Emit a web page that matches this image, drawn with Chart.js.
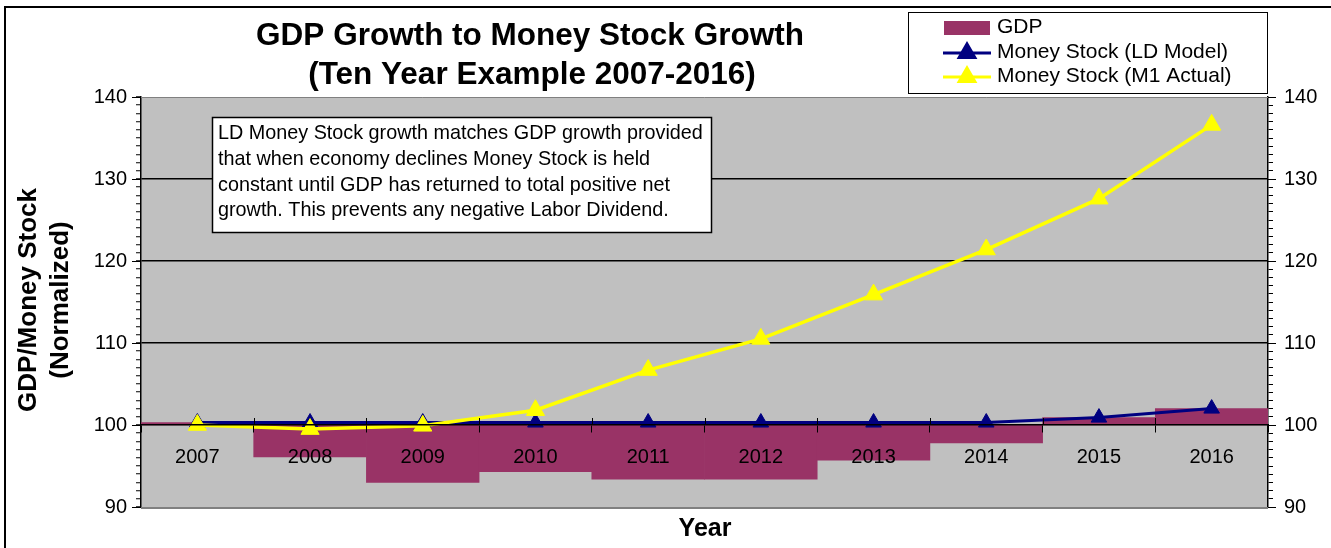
<!DOCTYPE html>
<html>
<head>
<meta charset="utf-8">
<title>GDP Growth to Money Stock Growth</title>
<script src="https://cdn.jsdelivr.net/npm/chart.js@4.4.1/dist/chart.umd.min.js"></script>
<style>
  html, body { margin: 0; padding: 0; background: #fff; }
  canvas { display: block; }
</style>
</head>
<body>
<canvas id="chart" width="1331" height="548"></canvas>
<script>
// Years on the category axis
const years = ['2007', '2008', '2009', '2010', '2011', '2012', '2013', '2014', '2015', '2016'];
// GDP, normalized to 100 in the base year
const gdp = [100.3, 96.1, 93.0, 94.3, 93.4, 93.4, 95.7, 97.8, 100.9, 102.0];
// Money stock under the LD model (held flat until GDP regains net growth)
const ldModel = [100.3, 100.3, 100.3, 100.3, 100.3, 100.3, 100.3, 100.3, 100.9, 102.0];
// Actual M1 money stock, normalized
const m1Actual = [100.0, 99.5, 99.9, 101.8, 106.7, 110.5, 115.9, 121.4, 127.6, 136.6];
// Value axis range and labelled ticks
const axisMin = 90;
const axisMax = 140;
const majorTicks = [90, 100, 110, 120, 130, 140];
const baseline = 100;

const titleLines = ['GDP Growth to Money Stock Growth', '(Ten Year Example 2007-2016)'];
const yTitleLines = ['GDP/Money Stock', '(Normalized)'];
const xTitle = 'Year';
const noteLines = [
  'LD Money Stock growth matches GDP growth provided',
  'that when economy declines Money Stock is held',
  'constant until GDP has returned to total positive net',
  'growth. This prevents any negative Labor Dividend.'
];

const FONT = '"Liberation Sans", Arial, Helvetica, sans-serif';
Chart.defaults.font.family = FONT;
Chart.defaults.color = '#000';

const MAROON = '#993366';
const NAVY = '#000080';
const YELLOW = '#FFFF00';
const PLOT_BG = '#C0C0C0';

const tickLabel = v => (v % 10 === 0 ? String(v) : '');

// Paints the page, plot area fill, frame, titles, legend and note box
const decorations = {
  id: 'decorations',
  beforeDraw(chart) {
    const { ctx, chartArea: a } = chart;
    ctx.save();
    ctx.fillStyle = '#fff';
    ctx.fillRect(0, 0, chart.width, chart.height);
    ctx.strokeStyle = '#000';
    ctx.lineWidth = 2;
    ctx.beginPath();
    ctx.moveTo(5, chart.height + 2);
    ctx.lineTo(5, 7);
    ctx.lineTo(chart.width + 2, 7);
    ctx.stroke();
    ctx.fillStyle = PLOT_BG;
    ctx.fillRect(a.left, a.top, a.right - a.left, a.bottom - a.top);
    ctx.restore();
  },
  afterDraw(chart) {
    const { ctx, chartArea: a, scales } = chart;
    const y = scales.y;
    const x = scales.x;
    ctx.save();

    // plot area edges
    ctx.strokeStyle = '#808080';
    ctx.lineWidth = 1;
    ctx.beginPath();
    ctx.moveTo(a.left, a.top + 0.5);
    ctx.lineTo(a.right, a.top + 0.5);
    ctx.stroke();
    ctx.lineWidth = 2;
    ctx.beginPath();
    ctx.moveTo(a.left, a.bottom + 1);
    ctx.lineTo(a.right, a.bottom + 1);
    ctx.stroke();

    // longer marks for the labelled ticks
    ctx.strokeStyle = '#000';
    ctx.lineWidth = 1;
    majorTicks.forEach(v => {
      const py = Math.round(y.getPixelForValue(v)) + 0.5;
      ctx.beginPath();
      ctx.moveTo(a.left - 9, py);
      ctx.lineTo(a.left, py);
      ctx.moveTo(a.right, py);
      ctx.lineTo(a.right + 8, py);
      ctx.stroke();
    });

    // category boundary marks cross the baseline
    const by = y.getPixelForValue(baseline);
    for (let i = 1; i < years.length; i++) {
      const px = Math.round((x.getPixelForValue(i - 1) + x.getPixelForValue(i)) / 2) + 0.5;
      ctx.beginPath();
      ctx.moveTo(px, by - 7);
      ctx.lineTo(px, by);
      ctx.stroke();
    }

    // chart title
    ctx.fillStyle = '#000';
    ctx.textAlign = 'center';
    ctx.textBaseline = 'middle';
    ctx.font = 'bold 31.5px ' + FONT;
    ctx.fillText(titleLines[0], 530, 36);
    ctx.fillText(titleLines[1], 532, 75);

    // value axis title
    ctx.font = 'bold 26px ' + FONT;
    [29, 61].forEach((cx, i) => {
      ctx.save();
      ctx.translate(cx, 300);
      ctx.rotate(-Math.PI / 2);
      ctx.fillText(yTitleLines[i], 0, 0);
      ctx.restore();
    });

    // category axis title
    ctx.font = 'bold 25px ' + FONT;
    ctx.fillText(xTitle, 705, 529);

    // legend
    ctx.fillStyle = '#fff';
    ctx.fillRect(908, 12, 360, 81);
    ctx.strokeStyle = '#000';
    ctx.lineWidth = 1;
    ctx.strokeRect(908.5, 12.5, 359, 81);
    const ds = chart.data.datasets;
    const rows = [27, 52, 76];
    ctx.textAlign = 'left';
    ctx.font = '21px ' + FONT;
    ds.forEach((d, i) => {
      const ry = rows[i];
      if (d.type === 'bar') {
        ctx.fillStyle = d.backgroundColor;
        ctx.fillRect(944, ry - 6, 46, 14);
      } else {
        ctx.strokeStyle = d.borderColor;
        ctx.lineWidth = 3;
        ctx.beginPath();
        ctx.moveTo(943, ry + 1);
        ctx.lineTo(991, ry + 1);
        ctx.stroke();
        ctx.fillStyle = d.pointBackgroundColor;
        ctx.strokeStyle = d.pointBorderColor;
        Chart.helpers.drawPoint(ctx, { pointStyle: 'triangle', radius: 9, rotation: 0, borderWidth: 1 }, 967, ry + 1);
      }
      ctx.fillStyle = '#000';
      ctx.fillText(d.label, 997, ry);
    });

    // note box
    ctx.fillStyle = '#fff';
    ctx.fillRect(212, 117, 500, 116);
    ctx.strokeStyle = '#000';
    ctx.lineWidth = 1.5;
    ctx.strokeRect(212.5, 117.5, 499, 115);
    ctx.fillStyle = '#000';
    ctx.font = '19.8px ' + FONT;
    ctx.textBaseline = 'middle';
    [134, 160, 185.5, 211].forEach((ly, i) => ctx.fillText(noteLines[i], 218, ly));

    ctx.restore();
  }
};

new Chart(document.getElementById('chart'), {
  data: {
    labels: years,
    datasets: [
      {
        type: 'bar',
        label: 'GDP',
        data: gdp.map(v => [baseline, v]),
        backgroundColor: MAROON,
        borderWidth: 0,
        barPercentage: 1,
        categoryPercentage: 1,
        yAxisID: 'y',
        order: 3
      },
      {
        type: 'line',
        label: 'Money Stock (LD Model)',
        data: ldModel,
        borderColor: NAVY,
        borderWidth: 3,
        pointStyle: 'triangle',
        pointRadius: 9,
        pointBackgroundColor: NAVY,
        pointBorderColor: NAVY,
        pointBorderWidth: 1,
        tension: 0,
        yAxisID: 'y',
        order: 2
      },
      {
        type: 'line',
        label: 'Money Stock (M1 Actual)',
        data: m1Actual,
        borderColor: YELLOW,
        borderWidth: 3.5,
        pointStyle: 'triangle',
        pointRadius: 10.5,
        pointBackgroundColor: YELLOW,
        pointBorderColor: YELLOW,
        pointBorderWidth: 1,
        tension: 0,
        yAxisID: 'y',
        order: 1
      }
    ]
  },
  options: {
    responsive: false,
    animation: false,
    devicePixelRatio: 1,
    layout: { padding: { top: 97, bottom: 41, left: 0, right: 0 } },
    plugins: {
      legend: { display: false },
      title: { display: false },
      tooltip: { enabled: false }
    },
    scales: {
      x: {
        type: 'category',
        position: { y: baseline },
        offset: true,
        grid: { offset: true, drawOnChartArea: false, tickLength: 7, tickColor: '#000', lineWidth: 1, z: 1 },
        border: { display: true, color: '#000', width: 1.5, z: 1 },
        ticks: { color: '#000', font: { size: 20 }, padding: 13, maxRotation: 0, autoSkip: false, z: 1 }
      },
      y: {
        type: 'linear',
        position: 'left',
        min: axisMin,
        max: axisMax,
        afterFit(scale) { scale.width = 141; },
        ticks: { stepSize: 1, autoSkip: false, callback: tickLabel, color: '#000', font: { size: 20 }, padding: 9 },
        grid: {
          color: c => (c.tick && c.tick.value % 10 === 0 && c.tick.value > axisMin && c.tick.value < axisMax && c.tick.value !== baseline) ? '#000' : 'rgba(0,0,0,0)',
          lineWidth: 1.5,
          tickColor: '#000',
          tickWidth: 1,
          tickLength: 5
        },
        border: { display: true, color: '#000', width: 1.5 }
      },
      y2: {
        type: 'linear',
        position: 'right',
        min: axisMin,
        max: axisMax,
        afterFit(scale) { scale.width = 63; },
        ticks: { stepSize: 1, autoSkip: false, callback: tickLabel, color: '#000', font: { size: 20 }, padding: 11 },
        grid: { drawOnChartArea: false, tickColor: '#000', tickWidth: 1, tickLength: 5 },
        border: { display: true, color: '#000', width: 1.5 }
      }
    }
  },
  plugins: [decorations]
});
</script>
</body>
</html>
